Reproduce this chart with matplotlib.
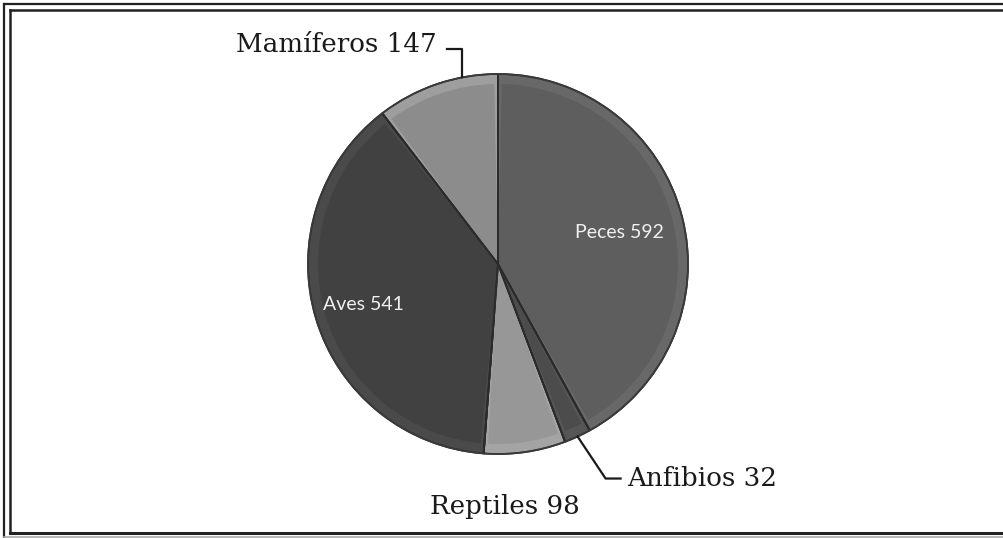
import numpy as np
import matplotlib
matplotlib.use("Agg")
import matplotlib.pyplot as plt
from matplotlib.patches import Wedge

# ---- data ----
categories = ["Peces", "Anfibios", "Reptiles", "Aves", "Mamíferos"]
values = [592, 32, 98, 541, 147]
colors = ["#5e5e5e", "#4c4c4c", "#979797", "#414141", "#8c8c8c"]
rim_colors = ["#686868", "#565656", "#a4a4a4", "#4a4a4a", "#9e9e9e"]
inside = [True, False, False, True, False]

W, H = 1004, 538
fig = plt.figure(figsize=(W / 100, H / 100), dpi=100)
ax = fig.add_axes([0, 0, 1, 1])
ax.set_xlim(0, W)
ax.set_ylim(0, H)
ax.set_aspect("equal")
ax.axis("off")

cx, cy, R = 498, H - 264, 190

# base pie (lighter rim colour), clockwise from the top
wedges, _ = ax.pie(values, colors=rim_colors, startangle=90, counterclock=False,
                   center=(cx, cy), radius=R, frame=True,
                   wedgeprops=dict(edgecolor="#2b2b2b", linewidth=1.3))
ax.set_xlim(0, W)
ax.set_ylim(0, H)
ax.axis("off")

# inner body (bevel effect)
for w, c in zip(wedges, colors):
    inner = Wedge((cx, cy), R - 10, w.theta1 + 1.2, w.theta2 - 1.2,
                  facecolor=c, edgecolor="none", zorder=w.get_zorder() + 0.1)
    ax.add_patch(inner)
    for th in (w.theta1, w.theta2):
        t = np.deg2rad(th)
        ax.plot([cx, cx + R * np.cos(t)], [cy, cy + R * np.sin(t)],
                color="#2b2b2b", lw=1.3, zorder=w.get_zorder() + 0.2,
                solid_capstyle="butt")
ax.add_patch(plt.Circle((cx, cy), R, fill=False, edgecolor="#3a3a3a", lw=1.2, zorder=5))

serif = ["DejaVu Serif"]
sans = ["Lato", "DejaVu Sans"]
FS = 18.8

def mid(w):
    return np.deg2rad((w.theta1 + w.theta2) / 2)

# inside labels
for w, cat, v, ins, frac in zip(wedges, categories, values, inside, [0.66, 0, 0, 0.74, 0]):
    if ins:
        a = mid(w)
        ax.text(cx + frac * R * np.cos(a), cy + frac * R * np.sin(a), f"{cat} {v}",
                ha="center", va="center", color="#f0f0f0", fontsize=14,
                family=sans, zorder=10)

# Mamíferos (leader to the top of its wedge, near the Peces boundary)
am = np.deg2rad(90 + 11)
px, py = cx + R * np.cos(am), cy + R * np.sin(am)
ax.plot([px, px, px - 15], [py, py + 28, py + 28], color="#1a1a1a", lw=1.6, zorder=10)
ax.text(px - 25, py + 25, f"{categories[4]} {values[4]}", ha="right", va="baseline",
        fontsize=FS, family=serif, color="#1a1a1a")

# Anfibios
wa = wedges[1]
aa = mid(wa)
px, py = cx + R * np.cos(aa), cy + R * np.sin(aa)
ax.plot([px, px + 28, px + 43], [py, py - 42, py - 42], color="#1a1a1a", lw=1.6, zorder=10)
ax.text(px + 50, py - 49, f"{categories[1]} {values[1]}", ha="left", va="baseline",
        fontsize=FS, family=serif, color="#1a1a1a")

# Reptiles
wr = wedges[2]
ar = mid(wr)
ax.text(cx + R * np.cos(ar) - 20, cy + R * np.sin(ar) - 62, f"{categories[2]} {values[2]}",
        ha="center", va="baseline", fontsize=FS, family=serif, color="#1a1a1a")

# frame
lc = "#222222"
fig.add_artist(plt.Line2D([4 / W, 4 / W], [1 - 4 / H, 0], transform=fig.transFigure, color=lc, lw=1.6))
fig.add_artist(plt.Line2D([4 / W, 1], [1 - 4 / H, 1 - 4 / H], transform=fig.transFigure, color=lc, lw=1.6))
fig.add_artist(plt.Line2D([10 / W, 10 / W], [1 - 9.7 / H, 1 - 533 / H], transform=fig.transFigure, color=lc, lw=1.8))
fig.add_artist(plt.Line2D([10 / W, 1], [1 - 9.7 / H, 1 - 9.7 / H], transform=fig.transFigure, color=lc, lw=1.8))
fig.add_artist(plt.Line2D([10 / W, 1], [1 - 533 / H, 1 - 533 / H], transform=fig.transFigure, color=lc, lw=2.2))
fig.add_artist(plt.Line2D([4 / W, 1], [1 - 537 / H, 1 - 537 / H], transform=fig.transFigure, color="#aaaaaa", lw=1.2))

fig.savefig("out.png", dpi=100, facecolor="white")
